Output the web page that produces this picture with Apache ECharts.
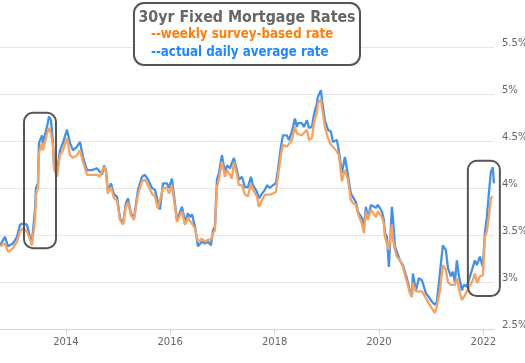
<!DOCTYPE html>
<html>
<head>
<meta charset="utf-8">
<script src="https://cdn.jsdelivr.net/npm/echarts@6/dist/echarts.min.js"></script>
<style>html,body{margin:0;padding:0;background:#fff}#c{width:525px;height:363px}</style>
</head>
<body>
<div id="c"></div>
<script>
// ---- data ----
const dates = [
'2012-09-26','2012-10-31','2012-11-21','2012-12-26','2013-01-23','2013-02-13','2013-03-06','2013-04-03','2013-04-24','2013-05-08',
'2013-05-29','2013-06-05','2013-06-19','2013-06-26','2013-07-17','2013-07-24','2013-08-21','2013-09-04','2013-09-18','2013-10-02',
'2013-10-09','2013-10-30','2013-11-20','2013-12-11','2014-01-08','2014-01-29','2014-02-19','2014-03-19','2014-04-09','2014-04-30',
'2014-05-28','2014-07-02','2014-08-06','2014-08-27','2014-09-10','2014-09-24','2014-10-08','2014-10-22','2014-11-12','2014-12-03',
'2014-12-24','2015-01-14','2015-02-04','2015-02-25','2015-03-11','2015-04-01','2015-04-22','2015-05-20','2015-06-17','2015-07-08',
'2015-07-29','2015-08-26','2015-09-16','2015-10-07','2015-10-21','2015-11-11','2015-12-09','2015-12-23','2016-01-13','2016-02-17',
'2016-03-23','2016-04-13','2016-05-04','2016-05-18','2016-06-01','2016-06-22','2016-07-13','2016-08-10','2016-08-31','2016-09-21',
'2016-10-12','2016-10-26','2016-11-09','2016-11-23','2016-12-07','2016-12-28','2017-01-18','2017-02-01','2017-02-22','2017-03-08',
'2017-03-22','2017-04-12','2017-04-26','2017-05-17','2017-06-07','2017-06-28','2017-07-19','2017-08-02','2017-08-30','2017-09-13',
'2017-10-04','2017-10-25','2017-11-08','2017-11-29','2017-12-20','2018-01-10','2018-01-24','2018-02-14','2018-02-28','2018-03-28',
'2018-04-11','2018-05-02','2018-05-23','2018-06-06','2018-06-13','2018-07-11','2018-07-25','2018-08-15','2018-08-29','2018-09-19',
'2018-10-03','2018-10-24','2018-10-31','2018-11-21','2018-11-28','2018-12-19','2019-01-09','2019-01-30','2019-02-13','2019-03-13',
'2019-03-27','2019-04-17','2019-05-08','2019-05-29','2019-06-19','2019-07-03','2019-07-24','2019-08-07','2019-09-04','2019-09-18',
'2019-10-02','2019-10-16','2019-11-06','2019-11-20','2019-12-11','2019-12-25','2020-01-08','2020-01-22','2020-02-05','2020-02-12',
'2020-02-26','2020-03-11','2020-04-01','2020-04-08','2020-04-22','2020-05-06','2020-05-27','2020-06-17','2020-07-15','2020-08-05',
'2020-08-19','2020-08-26','2020-09-16','2020-10-07','2020-10-28','2020-11-25','2020-12-16','2021-01-06','2021-01-27','2021-02-10',
'2021-03-03','2021-03-24','2021-04-14','2021-04-28','2021-05-19','2021-06-02','2021-06-16','2021-06-30','2021-07-14','2021-08-04',
'2021-08-18','2021-09-08','2021-09-22','2021-10-20','2021-11-03','2021-11-17','2021-12-08','2021-12-29','2022-01-12','2022-01-26',
'2022-02-09','2022-02-23','2022-03-09','2022-03-16'
];
const dailyRate = [
3.39,3.48,3.38,3.41,3.48,3.61,3.62,3.61,3.48,3.43,
3.77,4.00,4.05,4.48,4.56,4.48,4.65,4.76,4.72,4.48,
4.24,4.17,4.40,4.48,4.62,4.48,4.40,4.44,4.49,4.33,
4.19,4.19,4.21,4.17,4.14,4.24,4.19,3.96,4.05,3.93,
3.91,3.68,3.62,3.84,3.89,3.73,3.68,3.98,4.12,4.14,
4.09,4.00,3.98,3.85,3.77,4.05,4.05,4.00,4.10,3.66,
3.80,3.64,3.73,3.69,3.72,3.59,3.38,3.43,3.41,3.43,
3.39,3.55,3.59,4.09,4.16,4.35,4.16,4.24,4.21,4.19,
4.32,4.19,4.09,4.12,4.01,4.01,4.12,4.03,3.96,3.89,
3.94,3.98,4.03,4.00,4.03,4.05,4.19,4.44,4.56,4.56,
4.51,4.60,4.74,4.65,4.69,4.69,4.65,4.72,4.64,4.65,
4.78,4.90,4.97,5.04,4.94,4.72,4.62,4.60,4.49,4.51,
4.39,4.16,4.33,4.14,3.94,3.93,3.85,3.75,3.68,3.59,
3.80,3.68,3.82,3.82,3.79,3.82,3.82,3.75,3.66,3.52,
3.48,3.16,3.80,3.69,3.38,3.32,3.23,3.18,3.04,2.91,
2.84,3.09,2.91,3.04,3.02,2.88,2.84,2.79,2.76,2.79,
3.09,3.39,3.34,3.15,3.06,3.11,3.00,3.23,3.07,2.91,
2.97,2.95,2.93,3.16,3.23,3.18,3.27,3.16,3.52,3.69,
3.94,4.17,4.22,4.05
];
const weeklyRate = [
3.38,3.41,3.32,3.36,3.43,3.54,3.57,3.54,3.45,3.39,
3.66,3.93,4.01,4.37,4.48,4.40,4.58,4.64,4.58,4.44,
4.21,4.12,4.35,4.40,4.53,4.35,4.32,4.35,4.40,4.28,
4.14,4.14,4.14,4.12,4.12,4.23,4.17,3.94,4.01,3.89,
3.87,3.66,3.61,3.80,3.85,3.71,3.66,3.93,4.07,4.09,
4.03,3.94,3.91,3.78,3.77,4.00,4.00,3.94,4.03,3.64,
3.75,3.61,3.68,3.66,3.62,3.57,3.43,3.46,3.43,3.45,
3.45,3.52,3.55,4.01,4.09,4.28,4.12,4.19,4.14,4.10,
4.28,4.14,4.03,4.03,3.93,3.91,4.05,3.98,3.91,3.80,
3.87,3.93,3.94,3.93,3.94,3.96,4.12,4.35,4.46,4.44,
4.42,4.51,4.65,4.58,4.60,4.56,4.55,4.62,4.51,4.53,
4.69,4.81,4.90,4.94,4.86,4.65,4.53,4.46,4.44,4.39,
4.35,4.07,4.19,4.09,3.87,3.84,3.82,3.73,3.62,3.52,
3.75,3.66,3.77,3.75,3.69,3.75,3.75,3.69,3.62,3.48,
3.46,3.34,3.61,3.46,3.34,3.27,3.23,3.16,3.00,2.88,
2.84,2.99,2.90,2.90,2.90,2.83,2.77,2.72,2.67,2.74,
2.91,3.18,3.13,3.00,2.97,2.99,2.97,3.04,2.93,2.81,
2.84,2.90,2.90,3.02,3.09,2.99,3.06,3.07,3.48,3.54,
3.69,3.89,3.91,null
];
const xRange = ['2012-09-26', '2022-03-17'];
const xTickYears = [2014, 2016, 2018, 2020, 2022];
const yMin = 2.5, yMax = 5.5, yStep = 0.5;
const chartTitle = '30yr Fixed Mortgage Rates';
const legendWeekly = '--weekly survey-based rate';
const legendDaily = '--actual daily average rate';
// highlighted periods: [start date, end date, top value, bottom value]
const highlightBoxes = [
  ['2013-03-13', '2013-10-23', 4.80, 3.36],
  ['2021-09-15', '2022-04-27', 4.29, 2.85]
];

// ---- chart ----
const chart = echarts.init(document.getElementById('c'), null, {renderer: 'canvas'});
const toTs = s => { const p = s.split('-').map(Number); return Date.UTC(p[0], p[1] - 1, p[2]); };
const tickTs = xTickYears.map(y => Date.UTC(y, 0, 1));
const pairs = vals => dates.map((d, i) => [toTs(d), vals[i]]);
const FONT = '"DejaVu Sans", Verdana, sans-serif';

chart.setOption({
  animation: false,
  grid: {left: 0, right: 31, top: 47, bottom: 34, containLabel: false, outerBoundsMode: 'none'},
  xAxis: {
    type: 'value',
    min: toTs(xRange[0]),
    max: toTs(xRange[1]),
    axisLine: {show: true, lineStyle: {color: '#ccd6eb', width: 1}},
    axisTick: {show: true, customValues: tickTs, length: 6, lineStyle: {color: '#ccd6eb'}},
    axisLabel: {
      customValues: tickTs, margin: 8, color: '#666', fontSize: 10, fontFamily: FONT,
      formatter: v => String(new Date(v).getUTCFullYear())
    },
    splitLine: {show: false}
  },
  yAxis: {
    type: 'value', position: 'right', min: yMin, max: yMax, interval: yStep,
    axisLine: {show: false}, axisTick: {show: false},
    axisLabel: {color: '#666', fontSize: 10, fontFamily: FONT, margin: 8,
      verticalAlign: 'bottom', lineHeight: 8,
      formatter: v => v + '%'},
    splitLine: {lineStyle: {color: '#e6e6e6', width: 1}}
  },
  series: [
    {name: 'daily', type: 'line', data: pairs(dailyRate), showSymbol: false, z: 2,
     lineStyle: {color: '#4691e2', width: 2.3}, itemStyle: {color: '#4691e2'}},
    {name: 'weekly', type: 'line', data: pairs(weeklyRate), showSymbol: false, z: 3,
     lineStyle: {color: '#f5a263', width: 2.3}, itemStyle: {color: '#f5a263'}}
  ]
});

const boxes = highlightBoxes.map(b => {
  const p1 = chart.convertToPixel({gridIndex: 0}, [toTs(b[0]), b[2]]);
  const p2 = chart.convertToPixel({gridIndex: 0}, [toTs(b[1]), b[3]]);
  return {type: 'rect', z: 100,
    shape: {x: p1[0], y: p1[1], width: p2[0] - p1[0], height: p2[1] - p1[1], r: 9},
    style: {fill: 'none', stroke: '#555', lineWidth: 2}};
});

const TFONT = '"DejaVu Sans Condensed", "Liberation Sans", sans-serif';
chart.setOption({
  graphic: boxes.concat([
    {type: 'rect', z: 100, shape: {x: 134, y: 3, width: 226, height: 62, r: 10},
     style: {fill: '#fff', stroke: '#555', lineWidth: 2}},
    {type: 'text', z: 101, x: 247, y: 18,
     style: {text: chartTitle, fill: '#666', font: 'bold 15.8px ' + TFONT,
       align: 'center', verticalAlign: 'middle'}},
    {type: 'text', z: 101, x: 151, y: 35,
     style: {text: legendWeekly, fill: '#ff7f0e', font: 'bold 13.2px ' + TFONT,
       align: 'left', verticalAlign: 'middle'}},
    {type: 'text', z: 101, x: 151, y: 53,
     style: {text: legendDaily, fill: '#1e88ff', font: 'bold 13.2px ' + TFONT,
       align: 'left', verticalAlign: 'middle'}}
  ])
});
</script>
</body>
</html>
